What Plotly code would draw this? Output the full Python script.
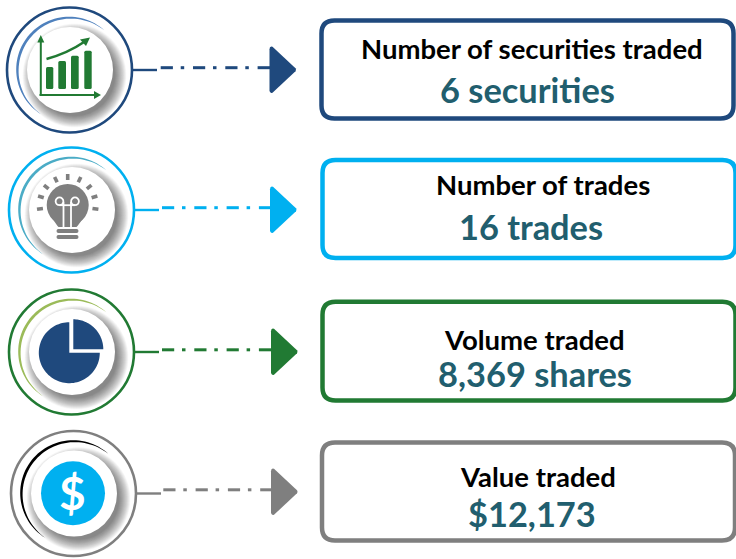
import numpy as np
import plotly.graph_objects as go

# ---- content ----
titles = ["Number of securities traded", "Number of trades", "Volume traded", "Value traded"]
values = ["6 securities", "16 trades", "8,369 shares", "$12,173"]
ring_colors = ["#1F497D", "#00B0F0", "#217A33", "#7F7F7F"]
arc_colors = ["#4F81BD", "#4BACC6", "#9BBB59", "#000000"]
value_color = "#215E6E"
GREEN, GREY, NAVY, SKY = "#217A33", "#7F7F7F", "#1F497D", "#00B0F0"

# ---- layout of the rows (pixels in the 736x559 canvas) ----
ring_cx = [69.5, 71.5, 71.5, 73.5]
ring_cy = [70, 210, 352, 493.5]
dash_x0 = [160.7, 162, 162, 163.3]
arrow_x = [269.5, 270, 271, 271]
arrow_cy = [69.7, 209.7, 351.8, 491.8]
box_x0 = [321.5, 322.5, 322.5, 322]
box_x1 = [733.5, 735.5, 735.5, 735]
box_y0 = [20.5, 160, 301.8, 442.5]
box_y1 = [118.5, 258, 400.5, 540.5]
title_x = [532, 542.5, 534, 538]
title_base = [59, 195, 350, 487]
value_x = [527, 531, 534.5, 532]
value_base = [103, 240, 387, 527]
TITLE_SIZE, VALUE_SIZE = 27.5, 34.4

shapes, annos = [], []


def circle(cx, cy, r, fill="rgba(0,0,0,0)", line=None, lw=0, op=1):
    shapes.append(dict(type="circle", xref="x", yref="y", x0=cx - r, x1=cx + r, y0=cy - r, y1=cy + r,
                       fillcolor=fill, line=dict(color=line or "rgba(0,0,0,0)", width=lw), opacity=op, layer="above"))


def path(d, fill="rgba(0,0,0,0)", line=None, lw=0):
    shapes.append(dict(type="path", xref="x", yref="y", path=d, fillcolor=fill,
                       line=dict(color=line or "rgba(0,0,0,0)", width=lw), layer="above"))


def seg(x0, y0, x1, y1, color, w):
    shapes.append(dict(type="line", xref="x", yref="y", x0=x0, y0=y0, x1=x1, y1=y1,
                       line=dict(color=color, width=w), layer="above"))


def poly(pts):
    return "M" + " L".join(f"{x:.2f},{y:.2f}" for x, y in pts) + " Z"


def rrect(x0, y0, x1, y1, r):
    return (f"M{x0 + r},{y0} L{x1 - r},{y0} Q{x1},{y0} {x1},{y0 + r} L{x1},{y1 - r} Q{x1},{y1} {x1 - r},{y1} "
            f"L{x0 + r},{y1} Q{x0},{y1} {x0},{y1 - r} L{x0},{y0 + r} Q{x0},{y0} {x0 + r},{y0} Z")


def arc_crescent(cx, cy, r, color):
    t = np.linspace(0, 1, 60)
    a = np.radians(-48 - t * 190)
    w = 2.8 * np.sin(np.pi * t) ** 0.8
    outer = [(cx + r * np.cos(v), cy + r * np.sin(v)) for v in a]
    inner = [(cx + (r - k) * np.cos(v), cy + (r - k) * np.sin(v)) for v, k in zip(a, w)]
    path(poly(outer + inner[::-1]), fill=color)


def wedge(cx, cy, r, a0, a1, fill):
    a = np.radians(np.linspace(a0, a1, 80))
    path(poly([(cx, cy)] + [(cx + r * np.cos(v), cy + r * np.sin(v)) for v in a]), fill=fill)


def icon_chart(cx, cy):
    ox, oy = cx - 69.5, cy - 70
    for x0, x1, top in [(46, 53.3, 67), (58.3, 66, 61), (71, 78.7, 55.7), (84.3, 91.7, 50.7)]:
        path(rrect(x0 + ox, top + oy, x1 + ox, 89 + oy, 1.5), fill=GREEN)
    seg(40.8 + ox, 40 + oy, 40.8 + ox, 95.5 + oy, GREEN, 2)
    seg(39.5 + ox, 95 + oy, 96 + ox, 95 + oy, GREEN, 2)
    path(poly([(37.3 + ox, 42.5 + oy), (44.3 + ox, 42.5 + oy), (40.8 + ox, 35 + oy)]), fill=GREEN)
    path(poly([(94 + ox, 91 + oy), (94 + ox, 99 + oy), (101 + ox, 95 + oy)]), fill=GREEN)
    path(f"M{46.5 + ox},{59 + oy} Q{68 + ox},{53 + oy} {84 + ox},{42 + oy}", line=GREEN, lw=2.6)
    path(poly([(80 + ox, 39.5 + oy), (90 + ox, 37.5 + oy), (86 + ox, 46 + oy)]), fill=GREEN)


def icon_bulb(cx, cy):
    ox, oy = cx - 71.5, cy - 210
    bx, by = 67.7 + ox, 205 + oy
    circle(bx, by, 21, fill=GREY)
    path(poly([(50 + ox, 215 + oy), (85.5 + ox, 215 + oy), (77.5 + ox, 226 + oy), (76.5 + ox, 227 + oy),
               (58.5 + ox, 227 + oy), (57.5 + ox, 226 + oy)]), fill=GREY)
    for y in [231, 237]:
        path(rrect(56.5 + ox, y - 1.9 + oy, 78.5 + ox, y + 1.9 + oy, 1.9), fill=GREY)
    for a in [-90, -115, -65, -140, -40, -163, -17, 172, 8]:
        v = np.radians(a)
        seg(bx + 25 * np.cos(v), by + 25 * np.sin(v), bx + 31 * np.cos(v), by + 31 * np.sin(v), GREY, 3.6)
    for lx in [59.5, 75]:
        circle(lx + ox, 201.3 + oy, 3.9, line="#FFFFFF", lw=1.8)
    seg(63.5 + ox, 202 + oy, 63.5 + ox, 227 + oy, "#FFFFFF", 1.8)
    seg(71 + ox, 202 + oy, 71 + ox, 227 + oy, "#FFFFFF", 1.8)
    seg(59.5 + ox, 205.2 + oy, 75 + ox, 205.2 + oy, "#FFFFFF", 1.8)


def icon_pie(cx, cy):
    ox, oy = cx - 71.5, cy - 352
    wedge(69.3 + ox, 352.7 + oy, 30.5, -90, -360, NAVY)
    wedge(73.3 + ox, 349.3 + oy, 30, -90, 0, NAVY)


def icon_dollar(cx, cy):
    circle(73 + cx - 73.5, 493.3 + cy - 493.5, 32, fill=SKY)


icons = [icon_chart, icon_bulb, icon_pie, icon_dollar]

for i in range(4):
    cx, cy, col = ring_cx[i], ring_cy[i], ring_colors[i]
    # ring
    circle(cx, cy, 62.5, fill="#FFFFFF", line=col, lw=2.6)
    arc_crescent(cx - 0.5, cy - 0.5, 52.8, arc_colors[i])
    # soft drop shadow, lower right
    for k in range(24):
        circle(cx + 5, cy + 5.5, 52 - k * 0.5, fill="rgba(0,0,0,0.024)")
    circle(cx + 0.5, cy, 43, fill="#FFFFFF")
    icons[i](cx, cy)
    # connector
    dy_line = arrow_cy[i]
    seg(cx + 63.5, cy, cx + 87.5, cy, col, 2.4)
    d0 = dash_x0[i]
    for n in range(4):
        x = d0 + n * 32.3
        if n < 3:
            seg(x, dy_line - 2, x + 12.2, dy_line - 2, col, 3)
            seg(x + 20, dy_line - 2, x + 23.5, dy_line - 2, col, 3)
        else:
            seg(x, dy_line - 2, arrow_x[i] + 1, dy_line - 2, col, 3)
    # arrow head
    ax, ay = arrow_x[i], arrow_cy[i]
    path(f"M{ax},{ay - 20.5} Q{ax},{ay - 24} {ax + 3},{ay - 23} L{ax + 26},{ay - 1.5} Q{ax + 27},{ay} {ax + 26},{ay + 1.5} "
         f"L{ax + 3},{ay + 23} Q{ax},{ay + 24} {ax},{ay + 20.5} Z", fill=col)
    # box
    path(rrect(box_x0[i], box_y0[i], box_x1[i], box_y1[i], 13), fill="#FFFFFF", line=col, lw=4.5)
    # text
    annos.append(dict(x=title_x[i], y=title_base[i] - 0.39 * TITLE_SIZE, text=f"<b>{titles[i]}</b>",
                      font=dict(size=TITLE_SIZE, color="#000000", family="Lato")))
    annos.append(dict(x=value_x[i], y=value_base[i] - 0.38 * VALUE_SIZE, text=f"<b>{values[i]}</b>",
                      font=dict(size=VALUE_SIZE, color=value_color, family="Lato")))

annos.append(dict(x=72.7, y=492.5, text="<b>$</b>", font=dict(size=46, color="#FFFFFF", family="Lato")))
for a in annos:
    a.update(xref="x", yref="y", showarrow=False, xanchor="center", yanchor="middle")

fig = go.Figure()
fig.update_layout(
    width=736, height=559, margin=dict(l=0, r=0, t=0, b=0),
    paper_bgcolor="#FFFFFF", plot_bgcolor="#FFFFFF", showlegend=False,
    xaxis=dict(range=[0, 736], visible=False, fixedrange=True),
    yaxis=dict(range=[559, 0], visible=False, fixedrange=True),
    shapes=shapes, annotations=annos,
)
fig.write_html("out.html", config=dict(displayModeBar=False),
               post_script="document.body.style.margin='0';document.body.style.overflow='hidden';")
